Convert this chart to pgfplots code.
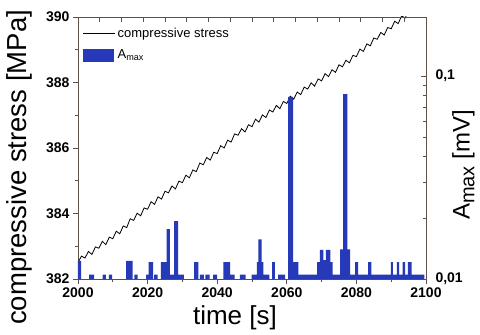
\documentclass[border=0pt]{standalone}
\usepackage{pgfplots}
\pgfplotsset{compat=1.18}
\usepackage{fontspec}
\setmainfont{Liberation Sans}
\definecolor{barblue}{RGB}{38,58,185}
\definecolor{framecol}{RGB}{95,80,72}

\begin{document}
\begin{tikzpicture}
% stress axis (left, bottom)
\begin{axis}[
  scale only axis, width=348pt, height=262pt,
  xmin=2000, xmax=2100, ymin=382, ymax=390,
  xtick={2000,2020,...,2100}, minor x tick num=1,
  ytick={382,384,...,390}, minor y tick num=1,
  xtick pos=bottom, ytick pos=left, tick align=outside,
  major tick length=5pt, minor tick length=3pt,
  axis line style={framecol, line width=0.9pt},
  tick style={framecol, line width=0.8pt},
  ticklabel style={font=\bfseries\fontsize{14}{14}\selectfont},
  /pgf/number format/assume math mode=true,
  /pgf/number format/set thousands separator={},
  xlabel={time [s]}, ylabel={compressive stress [MPa]},
  xlabel style={font=\fontsize{26}{26}\selectfont,
    at={(axis description cs:0.451,-0.149)}, anchor=center},
  ylabel style={font=\fontsize{27.5}{27.5}\selectfont,
    at={(axis description cs:-0.167,0.426)}, anchor=center},
  legend style={draw=none, fill=none, at={(0.005,0.975)}, anchor=north west,
    font=\fontsize{13}{13}\selectfont, row sep=7pt},
  legend cell align=left,
]
\coordinate (bl) at (rel axis cs:0,0);
\coordinate (tr) at (rel axis cs:1,1);
\addplot[black, line width=0.8pt,
  legend image code/.code={\draw[black, line width=0.7pt] (0pt,0pt) -- (32pt,0pt);}]
coordinates {
(2000,382.50) (2001,382.70) (2002,382.64) (2003,382.84) (2004,382.75)
(2005,382.98) (2006,382.94) (2007,383.15) (2008,383.05) (2009,383.28)
(2010,383.23) (2011,383.46) (2012,383.38) (2013,383.62) (2014,383.57)
(2015,383.84) (2016,383.79) (2017,384.01) (2018,383.93) (2019,384.17)
(2020,384.13) (2021,384.36) (2022,384.28) (2023,384.51) (2024,384.44)
(2025,384.68) (2026,384.63) (2027,384.84) (2028,384.75) (2029,384.99)
(2030,384.94) (2031,385.17) (2032,385.09) (2033,385.33) (2034,385.28)
(2035,385.54) (2036,385.49) (2037,385.71) (2038,385.63) (2039,385.87)
(2040,385.83) (2041,386.07) (2042,386.00) (2043,386.24) (2044,386.18)
(2045,386.43) (2046,386.39) (2047,386.59) (2048,386.49) (2049,386.71)
(2050,386.65) (2051,386.88) (2052,386.79) (2053,387.01) (2054,386.93)
(2055,387.16) (2056,387.10) (2057,387.30) (2058,387.20) (2059,387.42)
(2060,387.36) (2061,387.58) (2062,387.49) (2063,387.71) (2064,387.63)
(2065,387.86) (2066,387.80) (2067,387.99) (2068,387.89) (2069,388.11)
(2070,388.05) (2071,388.27) (2072,388.18) (2073,388.39) (2074,388.31)
(2075,388.54) (2076,388.48) (2077,388.68) (2078,388.60) (2079,388.83)
(2080,388.79) (2081,389.02) (2082,388.95) (2083,389.18) (2084,389.12)
(2085,389.36) (2086,389.32) (2087,389.53) (2088,389.45) (2089,389.68)
(2090,389.64) (2091,389.87) (2092,389.80) (2093,390.03) (2094,389.97)
(2095,390.19)
};
\addlegendentry{compressive stress}
\addlegendimage{legend image code/.code={\fill[barblue] (0pt,-6pt) rectangle (30pt,6pt);}}
\addlegendentry{A\textsubscript{max}}
\end{axis}

% amplitude axis (right, logarithmic)
\begin{axis}[
  scale only axis, width=348pt, height=262pt,
  xmin=2000, xmax=2100, ymode=log, ymin=0.01, ymax=0.1955,
  log origin y=infty,
  axis x line*=top, axis y line*=right,
  xtick={2000,2006.25,...,2100}, xticklabels={},
  ytick={0.01,0.1}, yticklabels={{0,01},{0,1}},
  minor ytick={0.02,0.03,0.04,0.05,0.06,0.07,0.08,0.09},
  tick align=inside,
  major tick length=5pt, minor tick length=3pt,
  axis line style={framecol, line width=0.9pt},
  tick style={framecol, line width=0.8pt},
  ticklabel style={font=\bfseries\fontsize{14}{14}\selectfont},
  yticklabel style={xshift=6pt},
  ylabel={A\raisebox{-0.2em}{\fontsize{20}{20}\selectfont max} [mV]},
  ylabel style={font=\fontsize{24}{24}\selectfont, inner sep=0pt,
    at={(axis description cs:1.075,0.435)}, anchor=north},
]
\addplot[ybar interval, fill=barblue, draw=none] coordinates {
(2000,0.0123) (2000.9,0.01) (2003.2,0.0105) (2004.6,0.01) (2007.1,0.0105)
(2008.0,0.01) (2008.9,0.0105) (2009.8,0.01) (2013.8,0.0123) (2015.7,0.01)
(2016.2,0.0105) (2017.1,0.01) (2019.6,0.0105) (2020.3,0.0121) (2021.6,0.01)
(2021.9,0.0105) (2022.9,0.01) (2023.8,0.0121) (2025.5,0.0176) (2026.4,0.0105)
(2027.6,0.0193) (2028.8,0.0105) (2030.4,0.01) (2033.4,0.0121) (2034.6,0.01)
(2035.0,0.0105) (2036.2,0.01) (2036.6,0.0105) (2037.8,0.01) (2038.8,0.0105)
(2040.0,0.01) (2041.8,0.0121) (2043.7,0.0105) (2045.0,0.01) (2046.5,0.0105)
(2048.2,0.01) (2049.9,0.0105) (2051.4,0.0121) (2051.8,0.0157) (2052.8,0.0121)
(2053.3,0.0105) (2055.0,0.01) (2055.8,0.0121) (2056.6,0.01) (2057.5,0.0105)
(2059.5,0.01) (2060.4,0.079) (2061.8,0.0121) (2063.3,0.0105) (2068.7,0.0121)
(2069.5,0.0139) (2070.5,0.0124) (2071.2,0.0139) (2072.5,0.0121) (2073.2,0.0105)
(2075.3,0.0140) (2076.2,0.0815) (2077.4,0.0140) (2078.2,0.0105) (2079.6,0.0121)
(2080.5,0.0105) (2083.4,0.0121) (2084.3,0.0105) (2089.9,0.0121) (2090.5,0.0105)
(2091.6,0.0121) (2092.3,0.0105) (2093.3,0.0121) (2094.0,0.0105) (2094.8,0.0121)
(2095.9,0.0105) (2099.5,0.0105)
};
\end{axis}
\pgfresetboundingbox
\path ([shift={(-78pt,-56pt)}]bl) rectangle ([shift={(54pt,17pt)}]tr);
\end{tikzpicture}
\end{document}
